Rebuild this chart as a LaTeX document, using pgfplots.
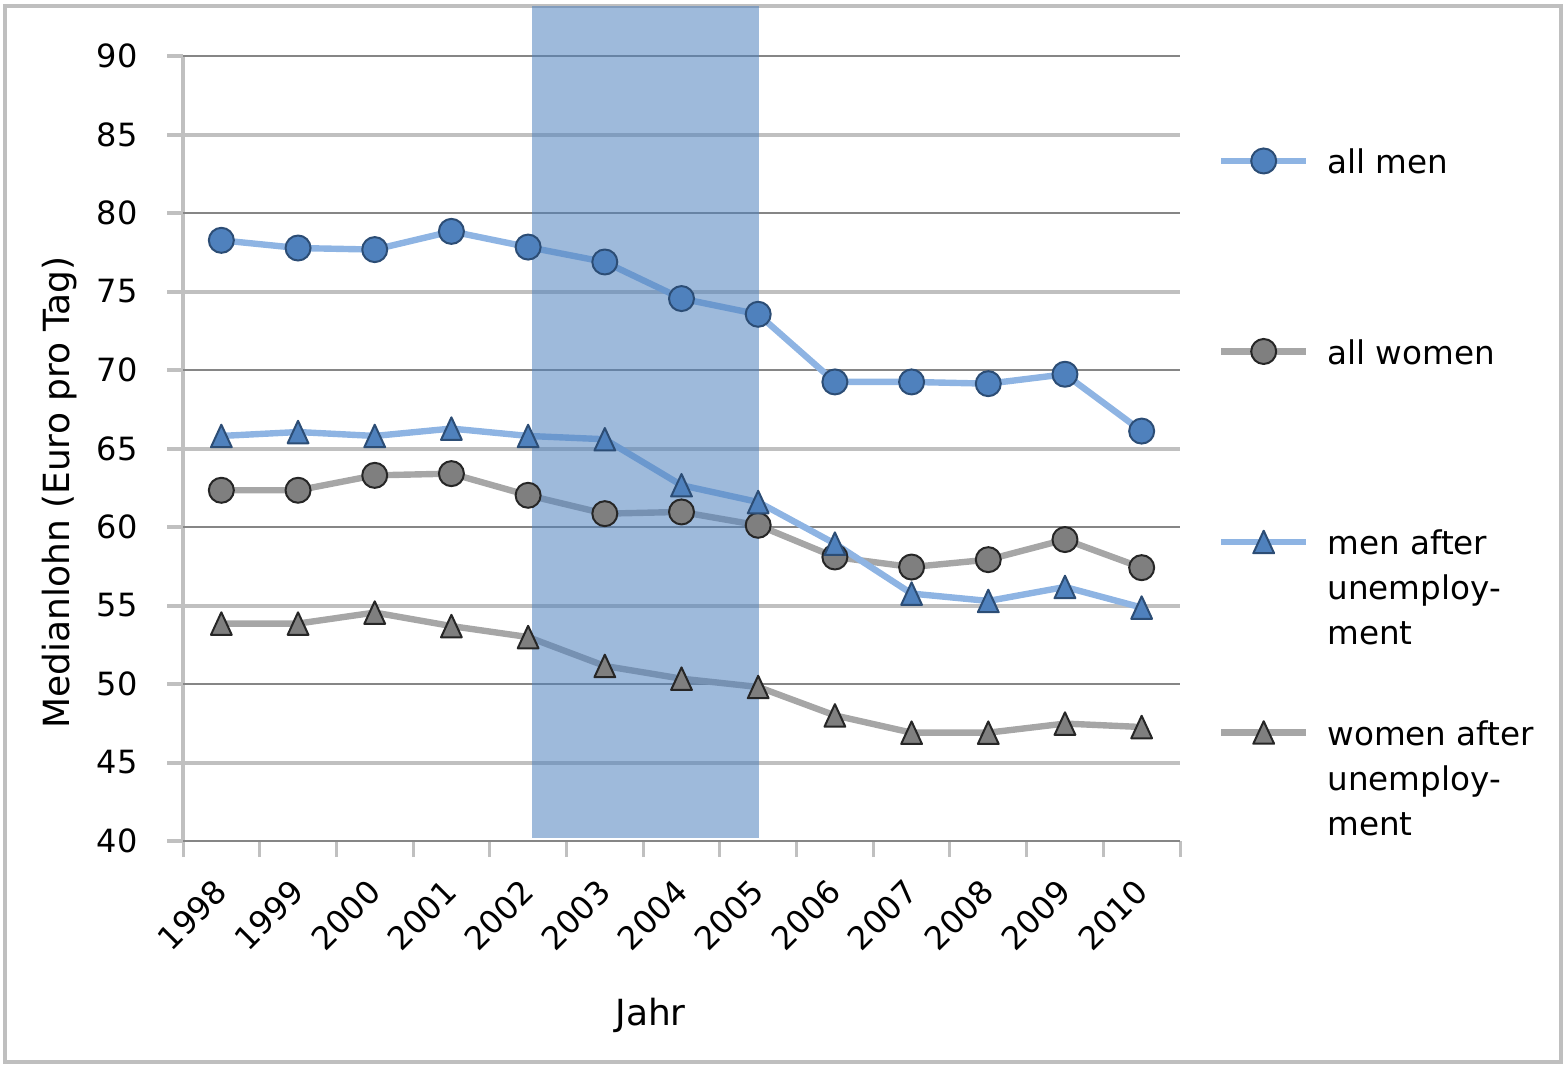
\documentclass[border=0pt]{standalone}
\usepackage{fontspec}
\setmainfont{DejaVu Sans}
\usepackage{pgfplots}
\pgfplotsset{compat=1.18}
\definecolor{gridlight}{HTML}{C0C0C0}
\definecolor{griddark}{HTML}{868686}
\definecolor{lineblue}{HTML}{8EB4E3}
\definecolor{markblue}{HTML}{4F81BD}
\definecolor{markblueb}{HTML}{2C4D75}
\definecolor{linegray}{HTML}{A6A6A6}
\definecolor{markgray}{HTML}{7F7F7F}
\definecolor{markgrayb}{HTML}{262626}
\definecolor{shadeblue}{HTML}{4F81BD}
\definecolor{framegray}{HTML}{BFBFBF}
\begin{document}
\begin{tikzpicture}
\path (0,0) rectangle (783pt,533.5pt);
\draw[framegray, line width=2pt] (2.5pt,2.5pt) rectangle (780.5pt,530.5pt);
\begin{axis}[
  at={(91.5pt,113pt)}, anchor=south west,
  scale only axis, width=498.5pt, height=392.5pt,
  xmin=-0.5, xmax=12.5, ymin=40, ymax=90,
  clip=false,
  axis x line*=bottom, axis y line*=left,
  x axis line style={griddark, line width=1.2pt},
  y axis line style={gridlight, line width=2pt},
  tick align=outside,
  major tick length=8pt,
  /pgf/number format/assume math mode=true,
  tick label style={font=\fontsize{16}{19}\selectfont},
  xtick={-0.5,0.5,...,12.5},
  xticklabels={},
  x tick style={gridlight, line width=1.5pt},
  extra x ticks={0,1,2,3,4,5,6,7,8,9,10,11,12},
  extra x tick labels={1998,1999,2000,2001,2002,2003,2004,2005,2006,2007,2008,2009,2010},
  extra x tick style={tick style={draw=none}},
  xticklabel style={anchor=east, inner sep=0pt, yshift=-14.5pt, rotate=45},
  ytick={45,55,65,75,85},
  ymajorgrids,
  major grid style={gridlight, line width=2pt},
  y tick style={gridlight, line width=2pt},
  extra y ticks={40,50,60,70,80,90},
  extra y tick style={grid=major, major grid style={griddark, line width=1.2pt}, tick style={griddark, line width=1.2pt}},
  yticklabel style={anchor=east, inner sep=0pt, xshift=-14.5pt},
  xlabel={Jahr},
  xlabel style={at={([yshift=-92pt]rel axis cs:0.469,0)}, anchor=base, font=\fontsize{18}{21}\selectfont},
  ylabel={Medianlohn (Euro pro Tag)},
  ylabel style={at={([xshift=-56.5pt]rel axis cs:0,0.444)}, anchor=base, font=\fontsize{18}{21}\selectfont},
  legend image code/.code={\draw[mark repeat=2,mark phase=2] plot coordinates {(0pt,0pt)(21.25pt,0pt)(42.5pt,0pt)};},
  legend cell align=left,
  legend style={at={(rel axis cs:1.0381,0.8854)}, anchor=north west, draw=none, fill=none,
    inner sep=0pt, outer sep=0pt, row sep=80.25pt, column sep=9pt,
    font=\fontsize{16.3}{22.5}\selectfont,
    nodes={inner sep=0pt, text height=14pt, text depth=1pt}},
]
\addplot[lineblue, line width=3.2pt, line join=round, mark=*, mark size=6.25pt,
  mark options={fill=markblue, draw=markblueb, line width=1pt}] coordinates {
  (0,78.26) (1,77.77) (2,77.67) (3,78.83) (4,77.83) (5,76.88) (6,74.55)
  (7,73.55) (8,69.24) (9,69.24) (10,69.13) (11,69.73) (12,66.11)};
\addlegendentry{\parbox[t]{110pt}{all men}}
\addplot[linegray, line width=3.2pt, line join=round, mark=*, mark size=6.25pt,
  mark options={fill=markgray, draw=markgrayb, line width=1pt}] coordinates {
  (0,62.34) (1,62.34) (2,63.29) (3,63.40) (4,62.02) (5,60.85) (6,60.96)
  (7,60.11) (8,58.09) (9,57.45) (10,57.92) (11,59.20) (12,57.41)};
\addlegendentry{\parbox[t]{110pt}{all women}}
\addplot[lineblue, line width=3.2pt, line join=round, mark=triangle*, mark size=7.5pt,
  mark options={yshift=-1.875pt, xscale=0.8, fill=markblue, draw=markblueb, line width=1pt}] coordinates {
  (0,65.80) (1,66.05) (2,65.80) (3,66.27) (4,65.80) (5,65.59) (6,62.66)
  (7,61.59) (8,58.94) (9,55.76) (10,55.29) (11,56.18) (12,54.87)};
\addlegendentry{\parbox[t]{110pt}{men after\\unemploy-\\ment}}
\addplot[linegray, line width=3.2pt, line join=round, mark=triangle*, mark size=7.5pt,
  mark options={yshift=-1.875pt, xscale=0.8, fill=markgray, draw=markgrayb, line width=1pt}] coordinates {
  (0,53.85) (1,53.85) (2,54.55) (3,53.69) (4,52.99) (5,51.15) (6,50.34)
  (7,49.81) (8,48.00) (9,46.90) (10,46.90) (11,47.48) (12,47.26)};
\addlegendentry{\parbox[t]{110pt}{women after\\unemploy-\\ment}}
\addplot[draw=none, fill=shadeblue, fill opacity=0.55, forget plot] coordinates {
  (4.05,40.2) (7.01,40.2) (7.01,93.2) (4.05,93.2)} -- cycle;
\end{axis}
\end{tikzpicture}
\end{document}
